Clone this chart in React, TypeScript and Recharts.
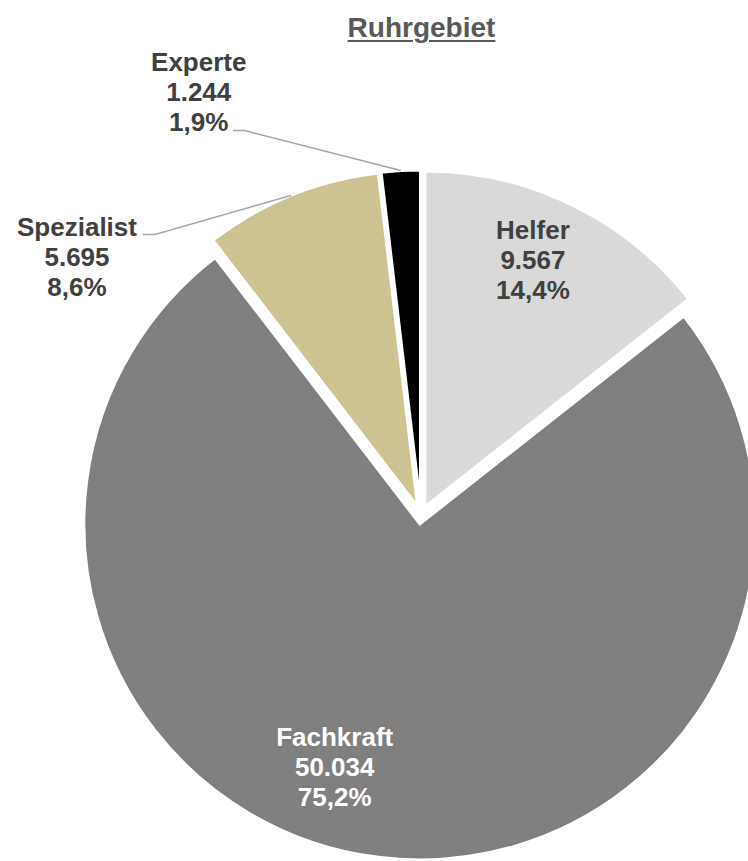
import { Cell, Pie, PieChart, Sector } from "recharts";

const categories = ["Helfer", "Fachkraft", "Spezialist", "Experte"];
const counts = [9567, 50034, 5695, 1244];
const sliceColors = ["#D9D9D9", "#7F7F7F", "#CDC392", "#000000"];

const RADIAN = Math.PI / 180;
const EXPLODE = 9;
const FONT = "'Liberation Sans', Arial, sans-serif";
const LINE = 30;

// label placement: inside labels are nudged from a point on the mid angle,
// outside labels get an elbow leader line and a text block left of it
const labelLayout = [
  { inside: true, color: "#404040", nx: -2, ny: -11 },
  { inside: true, color: "#FFFFFF", nx: -54, ny: 2 },
  { inside: false, color: "#404040", ex: -136, ey: 39, tx: -66, ty: 32 },
  { inside: false, color: "#404040", ex: -156, ey: -40, tx: -34, ty: -30 },
];

const total = counts.reduce((a, b) => a + b, 0);
const data = categories.map((name, i) => ({ name, value: counts[i] }));

const fmtCount = (v: number) => String(v).replace(/\B(?=(\d{3})+(?!\d))/g, ".");
const fmtShare = (v: number) => ((v / total) * 100).toFixed(1).replace(".", ",") + "%";

function explodedSector(props: any) {
  const { cx, cy, midAngle } = props;
  const dx = EXPLODE * Math.cos(-midAngle * RADIAN);
  const dy = EXPLODE * Math.sin(-midAngle * RADIAN);
  return <Sector {...props} cx={cx + dx} cy={cy + dy} />;
}

function renderLabel(props: any) {
  const { cx, cy, midAngle, outerRadius, index, value, name } = props;
  const cos = Math.cos(-midAngle * RADIAN);
  const sin = Math.sin(-midAngle * RADIAN);
  const ox = cx + EXPLODE * cos;
  const oy = cy + EXPLODE * sin;
  const layout: any = labelLayout[index];
  const lines = [name, fmtCount(value), fmtShare(value)];

  let x: number;
  let y: number;
  let leader = null;
  if (layout.inside) {
    x = ox + outerRadius * 0.75 * cos + layout.nx;
    y = oy + outerRadius * 0.75 * sin + layout.ny;
  } else {
    const sx = ox + outerRadius * cos;
    const sy = oy + outerRadius * sin;
    const mx = sx + layout.ex;
    const my = sy + layout.ey;
    const endX = mx - 12;
    leader = (
      <polyline
        points={`${sx},${sy} ${mx},${my} ${endX},${my}`}
        fill="none"
        stroke="#A6A6A6"
        strokeWidth={1.5}
      />
    );
    x = endX + layout.tx;
    y = my + layout.ty;
  }

  return (
    <g key={`label-${index}`}>
      {leader}
      <text
        x={x}
        y={y}
        textAnchor="middle"
        fill={layout.color}
        fontFamily={FONT}
        fontWeight="bold"
        fontSize={26}
      >
        {lines.map((line, i) => (
          <tspan key={i} x={x} y={y + (i - 1) * LINE}>
            {line}
          </tspan>
        ))}
      </text>
    </g>
  );
}

export default function App() {
  return (
    <div
      style={{
        position: "absolute",
        left: 0,
        top: 0,
        width: 748,
        height: 861,
        background: "#fff",
      }}
    >
      <div
        style={{
          position: "absolute",
          left: 0,
          width: 843,
          top: 14,
          textAlign: "center",
          fontFamily: FONT,
          fontWeight: "bold",
          fontSize: 28,
          lineHeight: "28px",
          color: "#595959",
          textDecoration: "underline",
          textDecorationThickness: 2,
          textUnderlineOffset: 3,
        }}
      >
        Ruhrgebiet
      </div>
      <PieChart
        width={748}
        height={861}
        margin={{ top: 0, right: 0, bottom: 0, left: 0 }}
      >
        <Pie
          data={data}
          dataKey="value"
          nameKey="name"
          cx={421}
          cy={515}
          outerRadius={336}
          startAngle={90}
          endAngle={-270}
          stroke="#FFFFFF"
          strokeWidth={3}
          shape={explodedSector}
          activeShape={explodedSector}
          label={renderLabel}
          labelLine={false}
          isAnimationActive={false}
        >
          {data.map((entry, i) => (
            <Cell key={entry.name} fill={sliceColors[i]} />
          ))}
        </Pie>
      </PieChart>
    </div>
  );
}
